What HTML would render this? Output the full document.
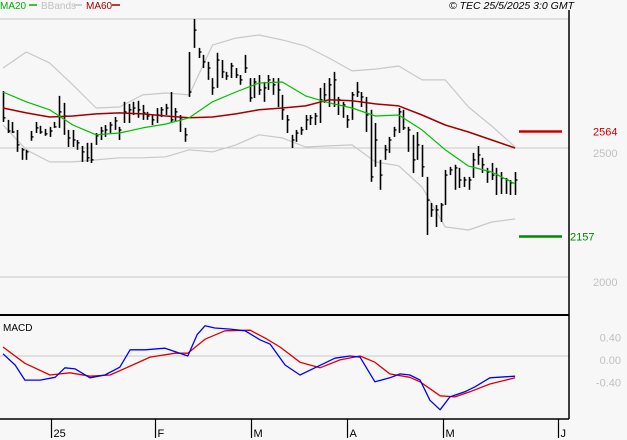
<!DOCTYPE html>
<html><head><meta charset="utf-8"><style>
body{margin:0;background:#f7f7f7;}
svg{display:block;font-family:"Liberation Sans",sans-serif;}
</style></head><body>
<svg id="c" width="627" height="440" viewBox="0 0 627 440">
<rect width="627" height="440" fill="#f7f7f7"/>
<g id="grid"></g>
<g id="bands"></g>
<g id="bars"></g>
<g id="mas"></g>
<g id="macd"></g>
<line x1="0" y1="315" x2="569" y2="315" stroke="#000" stroke-width="2"/>
<line x1="569" y1="10" x2="569" y2="419" stroke="#000" stroke-width="1.5"/>
<line x1="0" y1="419" x2="569" y2="419" stroke="#000" stroke-width="1.5"/>
<g font-size="10">
<text x="0" y="9" fill="#00b000">MA20</text>
<line x1="29" y1="5" x2="37" y2="5" stroke="#00b000" stroke-width="1.5"/>
<text x="41" y="9" fill="#c0c0c0">BBands</text>
<line x1="74" y1="5" x2="82" y2="5" stroke="#c0c0c0" stroke-width="1.5"/>
<text x="86" y="9" fill="#a00000">MA60</text>
<line x1="112" y1="5" x2="120" y2="5" stroke="#a00000" stroke-width="1.5"/>
</g>
<text x="574" y="9" font-size="10.5" font-style="italic" text-anchor="end" fill="#000">© TEC 25/5/2025 3:0 GMT</text>
<text x="3" y="331" font-size="10" fill="#000">MACD</text>
<g id="marks"></g>
<g id="xaxis" font-size="11" fill="#000"></g>
<g id="yaxis" font-size="11" fill="#c0c0c0"></g>
</svg>
<script>
const highs=[2721,2609,2601,2570,2500,2493,2566,2601,2586,2574,2582,2601,2702,2675,2570,2570,2531,2508,2520,2520,2558,2582,2589,2601,2620,2582,2679,2671,2679,2683,2667,2640,2628,2655,2659,2671,2717,2655,2628,2578,2872,3000,2888,2861,2834,2771,2869,2841,2795,2830,2810,2783,2861,2771,2771,2783,2756,2783,2771,2771,2706,2628,2551,2570,2582,2628,2628,2636,2733,2752,2771,2795,2698,2679,2628,2717,2756,2717,2698,2648,2597,2454,2512,2543,2582,2655,2648,2582,2551,2562,2512,2388,2287,2279,2287,2415,2427,2435,2423,2388,2388,2481,2508,2462,2423,2442,2423,2407,2384,2376,2407];
const lows=[2601,2558,2558,2485,2454,2454,2528,2558,2555,2547,2543,2578,2578,2551,2504,2504,2493,2446,2446,2442,2512,2531,2543,2558,2570,2531,2597,2597,2628,2617,2609,2609,2589,2597,2620,2628,2601,2601,2562,2524,2698,2888,2849,2810,2764,2706,2733,2771,2764,2771,2771,2745,2791,2679,2694,2706,2679,2725,2706,2659,2609,2558,2500,2524,2551,2570,2589,2589,2597,2675,2659,2659,2628,2617,2578,2609,2698,2659,2562,2369,2427,2338,2454,2481,2543,2558,2570,2485,2403,2454,2388,2163,2233,2194,2213,2279,2395,2338,2345,2349,2338,2384,2435,2403,2365,2376,2318,2322,2322,2318,2318];
const closes=[2617,2566,2562,2512,2493,2485,2543,2578,2562,2555,2566,2582,2640,2624,2539,2531,2520,2485,2462,2454,2547,2566,2570,2589,2605,2570,2640,2648,2655,2648,2636,2624,2609,2628,2648,2655,2609,2640,2617,2551,2717,2957,2872,2834,2810,2733,2841,2795,2779,2818,2783,2764,2810,2694,2756,2725,2733,2764,2745,2725,2648,2609,2531,2558,2570,2609,2617,2624,2687,2706,2745,2764,2687,2667,2609,2706,2717,2698,2628,2388,2531,2395,2493,2531,2570,2640,2578,2570,2454,2512,2427,2298,2260,2260,2279,2395,2415,2423,2376,2376,2376,2454,2473,2435,2407,2395,2395,2384,2376,2365,2376];
const sampleIdx=[0,5,10,15,20,25,30,35,40,45,50,55,60,65,70,75,80,85,90,95,100,105,110];
const ma20=[2717,2679,2648,2589,2551,2558,2578,2593,2617,2679,2717,2752,2756,2702,2675,2655,2624,2628,2570,2493,2430,2407,2361];
const ma60=[2655,2636,2620,2624,2632,2636,2632,2624,2617,2620,2632,2648,2655,2663,2687,2683,2671,2663,2628,2589,2562,2531,2500];
const bbUpper=[2810,2872,2830,2745,2655,2659,2706,2713,2706,2899,2926,2938,2919,2895,2849,2799,2806,2818,2764,2764,2659,2585,2504];
const bbLower=[2589,2493,2446,2446,2454,2462,2462,2466,2493,2485,2512,2551,2539,2504,2508,2512,2446,2431,2349,2194,2182,2213,2225];
const macdIdx=[0,2.6,4.7,8,11.2,13.3,15.5,18.7,21.9,25.1,27.3,30.5,34.8,38,39.7,41.7,43.4,45.5,48.8,52,55.2,57.4,60.6,63.8,67,71.3,74.5,76.7,79.9,83.1,85.3,87.4,89.6,91.7,93.9,96,99.2,101.4,104.6,110];
const macdLine=[0.04,-0.16,-0.43,-0.43,-0.38,-0.21,-0.23,-0.39,-0.34,-0.2,0.11,0.11,0.14,0.05,0,0.38,0.54,0.5,0.48,0.45,0.29,0.21,-0.16,-0.34,-0.21,-0.04,0,-0.02,-0.46,-0.39,-0.32,-0.34,-0.43,-0.79,-0.96,-0.73,-0.64,-0.55,-0.39,-0.36];
const signalIdx=[0,4.7,10.1,14.4,18.7,23,27.3,31.6,37,39.7,43.4,47.7,53.1,56.3,59.5,63.8,68.1,72.4,76.7,79.9,83.1,87.4,89.6,93.9,97.1,100.3,104.6,110];
const signalLine=[0.16,-0.13,-0.34,-0.3,-0.36,-0.34,-0.18,-0.02,0.05,0.05,0.3,0.45,0.46,0.32,0.16,-0.11,-0.21,-0.07,0,-0.11,-0.32,-0.38,-0.46,-0.71,-0.73,-0.64,-0.5,-0.39];
const priceTicks=[3000,2500,2000];
const priceLabels=["","2500","2000"];
const macdTicks=[0.4,0,-0.4];
const macdLabels=["0.40","0.00","-0.40"];
const monthTicks=[10.3,32.7,53.2,74,94.5,119.3];
const monthLabels=["25","F","M","A","M","J"];
const resistance=2564, support=2157;

const NS="http://www.w3.org/2000/svg";
const xs=i=>3+i*4.655;
const ys=p=>148-(p-2500)*0.258;
const ym=v=>356-v*56;
function mk(tag,attrs,parent){const e=document.createElementNS(NS,tag);for(const k in attrs)e.setAttribute(k,attrs[k]);parent.appendChild(e);return e;}
const G=id=>document.getElementById(id);

priceTicks.forEach((t,i)=>{
  const l=mk('line',{x1:0,x2:569,y1:ys(t),y2:ys(t),stroke:'#c8c8c8','stroke-width':1},G('grid'));
  
  
  if(priceLabels[i]){const tx=mk('text',{x:593,y:ys(t)+9},G('yaxis'));tx.textContent=priceLabels[i];
  
  }
});
const zl=mk('line',{x1:0,x2:569,y1:ym(0),y2:ym(0),stroke:'#c8c8c8','stroke-width':1},G('grid'));


macdTicks.forEach((t,i)=>{const tx=mk('text',{x:621,y:ym(t)+8,'text-anchor':'end'},G('yaxis'));tx.textContent=macdLabels[i];
  
  });

function poly(idx,arr,yf,color,w,parent,name){
  const pts=arr.map((v,k)=>xs(idx[k]).toFixed(1)+','+yf(v).toFixed(1)).join(' ');
  const p=mk('polyline',{points:pts,fill:'none',stroke:color,'stroke-width':w,'stroke-linejoin':'round'},parent);
  
  
}
poly(sampleIdx,bbUpper,ys,'#c8c8c8',1.2,G('bands'),'bband-upper');
poly(sampleIdx,bbLower,ys,'#c8c8c8',1.2,G('bands'),'bband-lower');

highs.forEach((h,i)=>{
  const x=Math.round(xs(i))+0.5;
  const g=mk('g',{},G('bars'));
  
  
  mk('line',{x1:x,x2:x,y1:ys(h),y2:ys(lows[i]),stroke:'#000','stroke-width':1.6},g);
  mk('line',{x1:x,x2:x+2,y1:ys(closes[i]),y2:ys(closes[i]),stroke:'#000','stroke-width':1.4},g);
});
poly(sampleIdx,ma60,ys,'#a00000',1.5,G('mas'),'ma60-line');
poly(sampleIdx,ma20,ys,'#00c000',1.2,G('mas'),'ma20-line');
poly(signalIdx,signalLine,ym,'#e00000',1.3,G('macd'),'macd-signal-line');
poly(macdIdx,macdLine,ym,'#0000ff',1.3,G('macd'),'macd-line');

const r=mk('line',{x1:519,x2:562,y1:ys(resistance),y2:ys(resistance),stroke:'#cc0000','stroke-width':2.5},G('marks'));


const rt=mk('text',{x:593,y:ys(resistance)+4,'font-size':11,fill:'#cc0000'},G('marks'));rt.textContent=String(resistance);


const s=mk('line',{x1:519,x2:562,y1:ys(support),y2:ys(support),stroke:'#008800','stroke-width':2.5},G('marks'));


const st=mk('text',{x:570,y:ys(support)+4,'font-size':11,fill:'#008800'},G('marks'));st.textContent=String(support);



monthTicks.forEach((m,i)=>{
  const x=Math.round(xs(m))+0.5;
  mk('line',{x1:x,x2:x,y1:419,y2:438,stroke:'#000','stroke-width':1.2},G('xaxis'));
  const t=mk('text',{x:x+2,y:437},G('xaxis'));t.textContent=monthLabels[i];
  
  
});
</script>
</body></html>
